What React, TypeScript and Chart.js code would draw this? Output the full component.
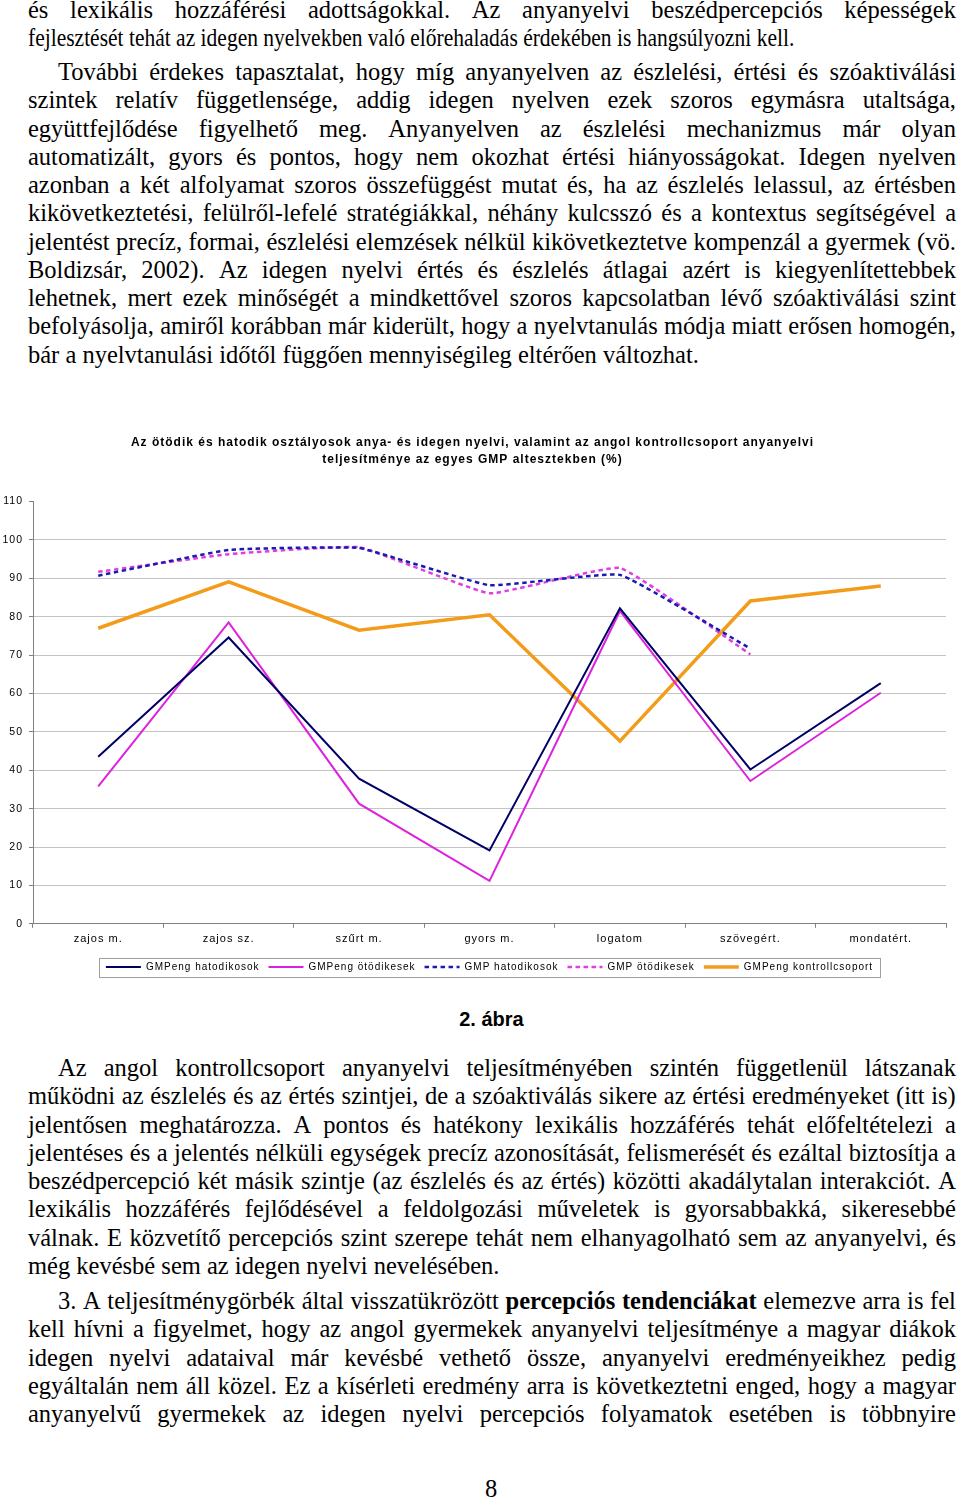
import React, { useEffect, useRef } from "react";
import { Chart, registerables } from "chart.js";
Chart.register(...registerables);

// ---------- chart data ----------
const categories = ["zajos m.", "zajos sz.", "szűrt m.", "gyors m.", "logatom", "szövegért.", "mondatért."];
const gmpengHatodikosok = [43.5, 74.6, 37.8, 19.1, 82.2, 40.2, 62.7];
const gmpengOtodikesek = [35.8, 78.5, 31.3, 11.2, 81.5, 37.2, 60.2];
const gmpHatodikosok = [90.7, 97.4, 97.9, 88.2, 90.9, 71.7, null];
const gmpOtodikesek = [91.7, 96.3, 98.1, 86.1, 92.7, 70.2, null];
const gmpengKontroll = [77.0, 89.1, 76.5, 80.5, 47.6, 84.1, 88.0];
const seriesNames = [
  "GMPeng hatodikosok",
  "GMPeng ötödikesek",
  "GMP hatodikosok",
  "GMP ötödikesek",
  "GMPeng kontrollcsoport",
];
const yMin = 0;
const yMax = 110;
const yStep = 10;
const chartTitle = [
  "Az ötödik és hatodik osztályosok anya- és idegen nyelvi, valamint az angol kontrollcsoport anyanyelvi",
  "teljesítménye az egyes GMP altesztekben (%)",
];
const figureCaption = "2. ábra";
const pageNumber = "8";

// ---------- page text ----------
const para1 = [
  "és lexikális hozzáférési adottságokkal. Az anyanyelvi beszédpercepciós képességek",
  "fejlesztését tehát az idegen nyelvekben való előrehaladás érdekében is hangsúlyozni kell.",
];
const para2 = [
  "További érdekes tapasztalat, hogy míg anyanyelven az észlelési, értési és szóaktiválási",
  "szintek relatív függetlensége, addig idegen nyelven ezek szoros egymásra utaltsága,",
  "együttfejlődése figyelhető meg. Anyanyelven az észlelési mechanizmus már olyan",
  "automatizált, gyors és pontos, hogy nem okozhat értési hiányosságokat. Idegen nyelven",
  "azonban a két alfolyamat szoros összefüggést mutat és, ha az észlelés lelassul, az értésben",
  "kikövetkeztetési, felülről-lefelé stratégiákkal, néhány kulcsszó és a kontextus segítségével a",
  "jelentést precíz, formai, észlelési elemzések nélkül kikövetkeztetve kompenzál a gyermek (vö.",
  "Boldizsár, 2002). Az idegen nyelvi értés és észlelés átlagai azért is kiegyenlítettebbek",
  "lehetnek, mert ezek minőségét a mindkettővel szoros kapcsolatban lévő szóaktiválási szint",
  "befolyásolja, amiről korábban már kiderült, hogy a nyelvtanulás módja miatt erősen homogén,",
  "bár a nyelvtanulási időtől függően mennyiségileg eltérően változhat.",
];
const para3 = [
  "Az angol kontrollcsoport anyanyelvi teljesítményében szintén függetlenül látszanak",
  "működni az észlelés és az értés szintjei, de a szóaktiválás sikere az értési eredményeket (itt is)",
  "jelentősen meghatározza. A pontos és hatékony lexikális hozzáférés tehát előfeltételezi a",
  "jelentéses és a jelentés nélküli egységek precíz azonosítását, felismerését és ezáltal biztosítja a",
  "beszédpercepció két másik szintje (az észlelés és az értés) közötti akadálytalan interakciót. A",
  "lexikális hozzáférés fejlődésével a feldolgozási műveletek is gyorsabbakká, sikeresebbé",
  "válnak. E közvetítő percepciós szint szerepe tehát nem elhanyagolható sem az anyanyelvi, és",
  "még kevésbé sem az idegen nyelvi nevelésében.",
];
const para4 = [
  "3. A teljesítménygörbék által visszatükrözött **percepciós** **tendenciákat** elemezve arra is fel",
  "kell hívni a figyelmet, hogy az angol gyermekek anyanyelvi teljesítménye a magyar diákok",
  "idegen nyelvi adataival már kevésbé vethető össze, anyanyelvi eredményeikhez pedig",
  "egyáltalán nem áll közel. Ez a kísérleti eredmény arra is következtetni enged, hogy a magyar",
  "anyanyelvű gyermekek az idegen nyelvi percepciós folyamatok esetében is többnyire",
];

const SERIF = '"Liberation Serif", "Times New Roman", serif';
const SANS = '"Liberation Sans", Arial, sans-serif';
const TEXT_LEFT = 28;
const TEXT_WIDTH = 928;
const INDENT = 30;
const LINE_STEP = 28.25;
const FONT_SIZE = 24.5;

function TextLine(props: { text: string; top: number; indent: boolean; justify: boolean; condense?: number }) {
  const { text, top, indent, justify, condense } = props;
  const left = TEXT_LEFT + (indent ? INDENT : 0);
  const width = TEXT_WIDTH - (indent ? INDENT : 0);
  const words = text.split(" ").map((w) => {
    const bold = w.startsWith("**") && w.endsWith("**");
    return { w: bold ? w.slice(2, -2) : w, bold };
  });
  const base: React.CSSProperties = {
    position: "absolute",
    left,
    top,
    width,
    height: 28,
    lineHeight: "28px",
    fontFamily: SERIF,
    fontSize: FONT_SIZE,
    color: "#000",
    whiteSpace: "nowrap",
  };
  if (justify) {
    return (
      <div style={{ ...base, display: "flex", justifyContent: "space-between" }}>
        {words.map((o, i) => (
          <span key={i} style={{ fontWeight: o.bold ? "bold" : "normal" }}>
            {o.w}
          </span>
        ))}
      </div>
    );
  }
  const extra: React.CSSProperties = condense
    ? { transform: `scaleX(${condense})`, transformOrigin: "left center" }
    : {};
  return (
    <div style={{ ...base, ...extra }}>
      {words.map((o, i) => (
        <React.Fragment key={i}>
          <span style={{ fontWeight: o.bold ? "bold" : "normal" }}>{o.w}</span>
          {i < words.length - 1 ? " " : ""}
        </React.Fragment>
      ))}
    </div>
  );
}

function Paragraph(props: {
  lines: string[];
  firstCenter: number;
  indentFirst: boolean;
  lastJustified?: boolean;
  lastCondense?: number;
}) {
  const { lines, firstCenter, indentFirst, lastJustified, lastCondense } = props;
  return (
    <>
      {lines.map((t, i) => (
        <TextLine
          key={i}
          text={t}
          top={firstCenter + i * LINE_STEP - 15}
          indent={indentFirst && i === 0}
          justify={i < lines.length - 1 || !!lastJustified}
          condense={i === lines.length - 1 ? lastCondense : undefined}
        />
      ))}
    </>
  );
}

const chromePlugin = {
  id: "chrome",
  beforeUpdate(chart: any) {
    chart.ctx.letterSpacing = "1px";
  },
  beforeDraw(chart: any) {
    chart.ctx.letterSpacing = "1px";
  },
  afterLayout(chart: any) {
    const ca = chart.chartArea;
    const mid = (ca.left + ca.right) / 2;
    const t = chart.titleBlock;
    if (t) {
      const dx = mid - 17 - (t.left + t.right) / 2;
      t.left += dx;
      t.right += dx;
    }
    const l = chart.legend;
    if (l) {
      const dx = mid - (l.left + l.right) / 2;
      l.left += dx;
      l.right += dx;
    }
  },
  afterDraw(chart: any) {
    const l = chart.legend;
    if (!l || !l.legendHitBoxes || !l.legendHitBoxes.length) return;
    const hb = l.legendHitBoxes;
    let x1 = Infinity;
    let x2 = -Infinity;
    let cy = 0;
    hb.forEach((h: any) => {
      x1 = Math.min(x1, h.left);
      x2 = Math.max(x2, h.left + h.width);
      cy = h.top + h.height / 2;
    });
    const ctx = chart.ctx;
    ctx.save();
    ctx.strokeStyle = "#a0a0a0";
    ctx.lineWidth = 1;
    ctx.setLineDash([]);
    ctx.strokeRect(Math.round(x1 - 7) + 0.5, Math.round(cy - 9.5) + 0.5, Math.round(x2 - x1 + 14), 19);
    ctx.restore();
  },
};

function LineChart() {
  const ref = useRef<HTMLCanvasElement | null>(null);
  useEffect(() => {
    if (!ref.current) return;
    const mk = (label: string, data: (number | null)[], color: string, width: number, dash: number[], tension: number) => ({
      label,
      data,
      borderColor: color,
      backgroundColor: color,
      borderWidth: width,
      borderDash: dash,
      tension,
      pointRadius: 0,
      pointHoverRadius: 0,
      fill: false,
      spanGaps: false,
    });
    const chart = new Chart(ref.current, {
      type: "line",
      data: {
        labels: categories,
        datasets: [
          mk(seriesNames[0], gmpengHatodikosok, "#000066", 2, [], 0),
          mk(seriesNames[1], gmpengOtodikesek, "#dd22dd", 2, [], 0),
          mk(seriesNames[2], gmpHatodikosok, "#1a1ab4", 2.5, [4.5, 3.5], 0.1),
          mk(seriesNames[3], gmpOtodikesek, "#e03ee0", 2.5, [4.5, 3.5], 0.1),
          mk(seriesNames[4], gmpengKontroll, "#f39c1c", 3.5, [], 0),
        ],
      },
      options: {
        animation: false,
        responsive: true,
        maintainAspectRatio: false,
        layout: { padding: { left: 0, right: 14, top: 0, bottom: 0 } },
        plugins: {
          title: {
            display: true,
            text: chartTitle,
            color: "#000",
            font: { family: SANS, size: 12, weight: "bold", lineHeight: 1.42 },
            padding: { top: 14.5, bottom: 33 },
          },
          legend: {
            position: "bottom",
            labels: {
              usePointStyle: true,
              pointStyle: "line",
              pointStyleWidth: 35,
              boxHeight: 10,
              color: "#000",
              padding: 9,
              font: { family: SANS, size: 10 },
              generateLabels: (c: any) =>
                c.data.datasets.map((ds: any, i: number) => ({
                  text: ds.label,
                  fillStyle: ds.borderColor,
                  strokeStyle: ds.borderColor,
                  lineWidth: ds.borderWidth,
                  lineDash: ds.borderDash || [],
                  pointStyle: "line",
                  hidden: false,
                  datasetIndex: i,
                  fontColor: "#000",
                })),
            },
          },
          tooltip: { enabled: false },
        },
        scales: {
          x: {
            offset: true,
            grid: { display: true, drawOnChartArea: false, offset: true, tickLength: 4, tickColor: "#808080" },
            border: { color: "#808080" },
            ticks: { color: "#000", font: { family: SANS, size: 11 }, padding: 5, maxRotation: 0, autoSkip: false },
            afterFit: (s: any) => {
              s.height += 2;
            },
          },
          y: {
            min: yMin,
            max: yMax,
            ticks: { stepSize: yStep, color: "#000", font: { family: SANS, size: 10.5 }, padding: 6 },
            grid: {
              color: (c: any) => (c.tick && c.tick.value === yMax ? "rgba(0,0,0,0)" : "#c4c4c4"),
              tickColor: "#808080",
              tickLength: 4,
            },
            border: { color: "#808080" },
            afterFit: (s: any) => {
              s.width = 33;
            },
          },
        },
      },
      plugins: [chromePlugin],
    } as any);
    return () => chart.destroy();
  }, []);
  return <canvas ref={ref} />;
}

export default function App() {
  return (
    <div
      style={{
        position: "absolute",
        left: 0,
        top: 0,
        width: 960,
        height: 1499,
        background: "#fff",
        overflow: "hidden",
      }}
    >
      <Paragraph lines={para1} firstCenter={11} indentFirst={false} lastCondense={0.878} />
      <Paragraph lines={para2} firstCenter={73} indentFirst={true} />
      <div style={{ position: "absolute", left: 0, top: 420, width: 960, height: 562 }}>
        <LineChart />
      </div>
      <div
        style={{
          position: "absolute",
          left: 0,
          width: 983,
          top: 1007,
          textAlign: "center",
          fontFamily: SANS,
          fontWeight: "bold",
          fontSize: 20,
          lineHeight: "24px",
          color: "#000",
        }}
      >
        {figureCaption}
      </div>
      <Paragraph lines={para3} firstCenter={1069} indentFirst={true} />
      <Paragraph lines={para4} firstCenter={1302} indentFirst={true} lastJustified={true} />
      <div
        style={{
          position: "absolute",
          left: 0,
          width: 982,
          top: 1475,
          textAlign: "center",
          fontFamily: SERIF,
          fontSize: FONT_SIZE,
          lineHeight: "28px",
          color: "#000",
        }}
      >
        {pageNumber}
      </div>
    </div>
  );
}
